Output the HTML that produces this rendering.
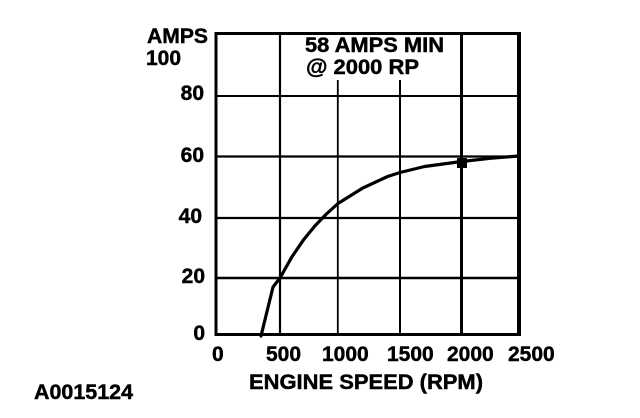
<!DOCTYPE html>
<html>
<head>
<meta charset="utf-8">
<style>
  html, body { margin:0; padding:0; background:#fff; }
  body { width:640px; height:418px; overflow:hidden; }
  svg { display:block; }
  text { font-family: "Liberation Sans", Arial, sans-serif; font-weight:bold; font-size:21px; fill:#000; stroke:#000; stroke-width:0.45px; }
</style>
</head>
<body>
<svg width="640" height="418" viewBox="0 0 640 418" xmlns="http://www.w3.org/2000/svg">
  <rect x="0" y="0" width="640" height="418" fill="#fff"/>

  <!-- horizontal grid lines -->
  <line x1="216" y1="96" x2="519" y2="96" stroke="#000" stroke-width="2"/>
  <line x1="216" y1="156.5" x2="519" y2="156.5" stroke="#000" stroke-width="2.2"/>
  <line x1="216" y1="218" x2="519" y2="218" stroke="#000" stroke-width="2.2"/>
  <line x1="216" y1="278" x2="519" y2="278" stroke="#000" stroke-width="2.6"/>

  <!-- vertical grid lines -->
  <line x1="280" y1="33" x2="280" y2="335" stroke="#000" stroke-width="2.2"/>
  <line x1="337.8" y1="80" x2="337.8" y2="335" stroke="#000" stroke-width="1.8"/>
  <line x1="400" y1="80" x2="400" y2="335" stroke="#000" stroke-width="2"/>
  <line x1="461.5" y1="33" x2="461.5" y2="335" stroke="#000" stroke-width="3"/>

  <!-- frame -->
  <line x1="216" y1="32" x2="216" y2="336" stroke="#000" stroke-width="3"/>
  <line x1="214.5" y1="334.5" x2="521" y2="334.5" stroke="#000" stroke-width="3"/>
  <line x1="214.5" y1="33.5" x2="521" y2="33.5" stroke="#000" stroke-width="3"/>
  <line x1="519" y1="32" x2="519" y2="336" stroke="#000" stroke-width="4"/>

  <!-- curve -->
  <path d="M261,336 L273,287 L280,278
           L291.6,257.3 L303.2,240.3 L314.8,226 L326.4,214 L338,203.5
           L362.8,188 L387.6,176.5 L400,172.5 L424.6,166.5 L461.5,161.5
           L490.3,158.3 L519,156"
        fill="none" stroke="#000" stroke-width="3.2" stroke-linejoin="round" stroke-linecap="round"/>

  <!-- marker -->
  <rect x="457" y="158" width="10" height="10" fill="#000"/>

  <!-- y axis labels -->
  <text x="147" y="43" textLength="61" lengthAdjust="spacingAndGlyphs">AMPS</text>
  <text x="146" y="65">100</text>
  <text x="204" y="100" text-anchor="end">80</text>
  <text x="204" y="162" text-anchor="end">60</text>
  <text x="202" y="223" text-anchor="end">40</text>
  <text x="205" y="283" text-anchor="end">20</text>
  <text x="205" y="340" text-anchor="end">0</text>

  <!-- x axis labels -->
  <text x="212" y="361">0</text>
  <text x="266" y="361">500</text>
  <text x="322" y="361">1000</text>
  <text x="387" y="361">1500</text>
  <text x="447" y="361">2000</text>
  <text x="508" y="361">2500</text>

  <text x="249" y="389" textLength="234" lengthAdjust="spacingAndGlyphs">ENGINE SPEED (RPM)</text>

  <!-- annotation -->
  <text x="305" y="52" textLength="139" lengthAdjust="spacingAndGlyphs">58 AMPS MIN</text>
  <text x="306" y="74" textLength="113" lengthAdjust="spacingAndGlyphs">@ 2000 RP</text>

  <!-- figure id -->
  <text x="34" y="399" textLength="99" lengthAdjust="spacingAndGlyphs">A0015124</text>
</svg>
</body>
</html>
